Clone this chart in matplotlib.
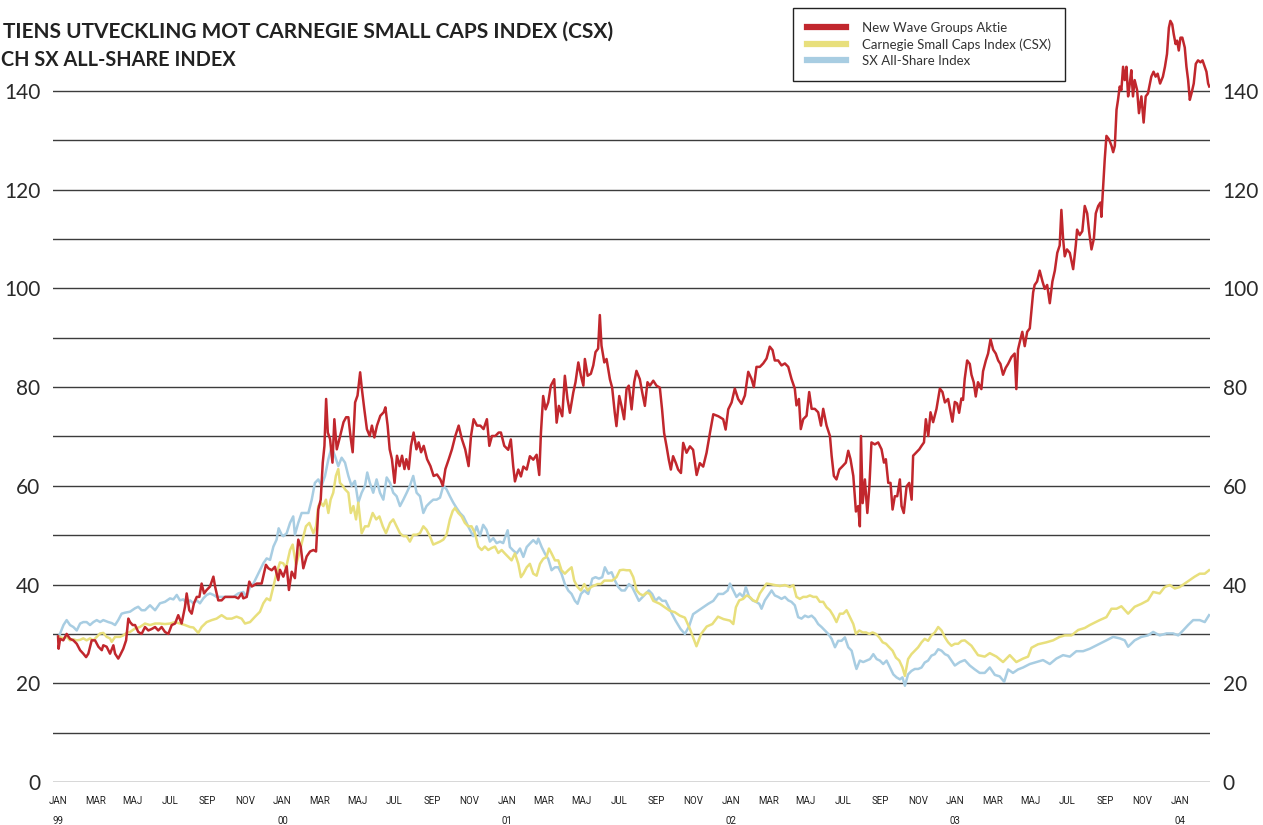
import matplotlib
matplotlib.use("Agg")
import matplotlib.pyplot as plt
from matplotlib.transforms import blended_transform_factory, offset_copy

# ---- data: time in months since Jan 1999 ----
red_t = [0.00,0.03,0.11,0.28,0.46,0.64,0.82,1.00,1.18,1.35,1.50,1.62,1.80,1.98,2.16,2.34,2.42,2.60,2.78,2.96,
 3.05,3.22,3.32,3.49,3.64,3.76,3.85,3.99,4.12,4.29,4.47,4.65,4.83,5.01,5.19,5.36,5.54,5.72,5.90,6.08,
 6.26,6.43,6.61,6.79,6.88,7.02,7.15,7.27,7.42,7.56,7.68,7.81,7.95,8.13,8.31,8.40,8.57,8.75,8.93,9.20,
 9.47,9.64,9.82,9.91,10.09,10.23,10.36,10.63,10.89,11.12,11.25,11.43,11.60,11.78,11.87,12.05,12.23,12.35,12.50,12.67,
 12.85,12.98,13.12,13.30,13.48,13.66,13.80,13.92,14.05,14.16,14.25,14.34,14.43,14.55,14.68,14.78,14.91,15.09,15.27,15.41,
 15.53,15.66,15.76,15.89,16.02,16.16,16.25,16.38,16.52,16.67,16.79,16.92,17.06,17.24,17.42,17.51,17.63,17.74,17.86,18.00,
 18.13,18.27,18.40,18.53,18.63,18.76,18.88,19.02,19.17,19.29,19.42,19.56,19.74,19.92,20.09,20.27,20.45,20.58,20.72,20.90,
 21.07,21.25,21.43,21.60,21.78,21.96,22.09,22.23,22.41,22.59,22.76,22.94,23.07,23.21,23.39,23.57,23.69,23.87,24.08,24.22,
 24.35,24.44,24.62,24.76,24.89,25.07,25.24,25.42,25.60,25.74,25.83,25.95,26.08,26.22,26.36,26.54,26.67,26.79,26.97,27.11,
 27.25,27.38,27.56,27.68,27.83,27.97,28.10,28.18,28.33,28.50,28.63,28.75,28.89,28.98,29.07,29.22,29.34,29.52,29.64,29.78,
 29.87,30.02,30.14,30.28,30.41,30.53,30.68,30.82,30.94,31.12,31.25,31.39,31.53,31.66,31.84,32.01,32.19,32.31,32.42,32.55,
 32.67,32.78,32.90,33.05,33.17,33.32,33.44,33.62,33.80,33.97,34.16,34.33,34.51,34.69,34.87,35.05,35.32,35.58,35.71,35.85,
 36.03,36.20,36.38,36.56,36.74,36.92,37.09,37.22,37.36,37.54,37.72,37.90,38.07,38.22,38.34,38.52,38.70,38.88,39.06,39.23,
 39.41,39.50,39.63,39.73,39.86,40.04,40.18,40.31,40.48,40.66,40.81,40.93,41.11,41.29,41.38,41.50,41.64,41.79,41.97,42.14,
 42.27,42.39,42.54,42.68,42.80,42.89,42.95,43.04,43.16,43.29,43.40,43.51,43.69,43.87,44.05,44.18,44.28,44.41,44.53,44.64,
 44.76,44.89,45.03,45.12,45.24,45.39,45.53,45.66,45.74,45.89,46.07,46.19,46.32,46.42,46.55,46.67,46.81,46.99,47.17,47.31,
 47.44,47.61,47.84,47.97,48.09,48.20,48.32,48.41,48.50,48.63,48.77,48.86,48.98,49.09,49.21,49.39,49.48,49.63,49.75,49.88,
 50.02,50.16,50.29,50.41,50.55,50.69,50.82,51.00,51.17,51.26,51.35,51.48,51.58,51.71,51.84,51.98,52.07,52.16,52.24,52.37,
 52.51,52.66,52.78,52.91,53.05,53.19,53.32,53.45,53.58,53.67,53.76,53.85,53.97,54.12,54.30,54.44,54.51,54.65,54.79,54.92,
 55.05,55.15,55.28,55.41,55.51,55.64,55.76,55.81,55.91,55.99,56.08,56.22,56.35,56.44,56.53,56.62,56.70,56.79,56.88,56.97,
 57.06,57.15,57.24,57.33,57.41,57.50,57.59,57.72,57.82,57.95,58.07,58.18,58.30,58.48,58.60,58.71,58.82,58.95,59.10,59.21,
 59.32,59.42,59.50,59.60,59.68,59.78,59.86,59.95,60.04,60.14,60.27,60.36,60.45,60.54,60.63,60.75,60.86,60.98,61.11,61.22,
 61.34,61.43,61.52,61.58]
red_v = [29.5,27.0,29.0,28.7,30.0,29.0,28.7,28.0,26.7,26.0,25.3,26.0,28.7,28.7,27.4,26.7,27.7,27.4,26.0,27.7,
 26.0,25.0,25.7,27.0,28.7,33.1,32.4,31.8,31.8,30.4,30.0,31.4,30.7,31.0,31.4,30.7,31.4,30.4,30.0,31.8,
 32.1,33.8,32.1,35.5,38.2,34.8,34.1,36.2,37.5,37.5,40.2,38.2,38.9,39.6,41.6,39.6,36.8,36.8,37.5,37.5,
 37.5,37.2,38.2,37.2,37.5,40.6,39.6,40.2,40.2,44.0,43.3,42.9,43.6,40.9,43.0,41.6,43.7,38.9,42.6,41.3,
 49.1,47.7,43.3,45.7,46.7,47.0,46.7,55.2,57.2,64.7,68.1,77.6,70.8,69.5,64.7,73.5,67.4,70.1,72.9,73.9,
 73.9,69.5,66.8,76.9,78.3,83.0,79.7,75.6,71.5,70.1,72.2,69.8,72.2,74.2,74.9,75.9,72.2,67.4,65.4,60.6,
 66.1,64.0,66.1,63.4,65.4,63.4,68.1,70.8,67.4,68.8,66.8,68.1,65.4,64.0,62.0,62.3,61.3,60.0,63.4,65.4,
 67.4,70.1,72.2,69.5,67.4,64.0,70.1,73.5,72.2,72.2,71.5,73.5,68.1,70.1,70.1,70.8,70.8,68.1,67.3,69.4,
 63.9,60.9,63.3,61.9,63.9,63.3,66.0,65.3,66.3,62.2,70.7,78.2,75.5,76.9,80.3,81.6,72.8,76.2,74.1,82.3,
 77.6,74.8,78.9,81.0,85.0,82.3,80.3,85.7,82.3,82.7,84.4,87.1,87.8,94.6,88.4,85.0,85.7,81.6,79.9,74.8,
 72.1,78.2,76.2,73.5,79.6,80.3,75.5,81.0,83.3,81.6,78.9,76.2,81.0,80.3,81.3,80.3,79.9,75.5,70.7,68.0,
 65.3,63.3,66.0,64.6,63.3,62.6,68.7,66.7,68.0,67.3,62.2,64.6,63.9,66.7,70.7,74.5,74.1,73.5,71.4,75.5,
 76.9,79.7,77.6,76.6,78.3,83.1,81.7,80.0,84.1,84.1,84.8,85.8,88.2,87.5,85.4,85.4,84.4,84.8,84.1,81.7,
 79.7,76.3,77.6,71.5,73.5,74.2,79.0,75.6,75.6,74.9,72.2,75.6,72.2,70.1,66.1,62.0,61.3,63.3,64.0,64.7,
 67.1,65.4,62.0,54.8,55.9,51.8,70.1,56.5,61.3,54.5,59.9,68.8,68.4,68.8,67.4,64.7,65.4,60.6,60.6,55.2,
 57.9,57.9,61.3,55.9,54.5,59.9,60.6,57.2,66.1,66.7,67.4,68.1,68.8,73.5,70.1,74.9,72.9,75.6,79.7,79.0,
 76.9,77.6,73.0,77.0,76.7,74.8,77.7,77.4,81.7,85.4,84.7,82.5,81.0,78.1,81.0,79.6,83.2,85.4,86.8,89.7,
 87.6,86.8,85.4,84.7,82.5,83.9,84.7,86.1,86.8,79.6,87.6,89.7,91.2,88.3,91.2,91.9,95.6,99.2,100.7,101.4,
 103.6,101.4,99.9,100.7,97.0,101.4,103.6,107.2,108.7,115.9,110.1,106.5,107.9,107.2,103.9,108.7,111.9,110.8,111.6,116.7,
 115.2,111.6,107.9,110.1,115.2,116.7,117.4,114.5,121.0,126.2,130.9,130.2,128.9,127.6,128.9,136.2,138.2,140.9,140.2,144.9,
 142.2,144.9,138.9,141.5,144.2,138.9,142.2,140.2,135.5,138.9,133.6,138.9,139.5,142.9,143.9,142.9,143.5,141.5,142.9,144.9,
 147.5,152.8,154.2,153.5,151.5,149.5,150.2,148.2,150.8,150.8,148.8,144.9,142.2,138.2,139.5,141.5,145.5,146.2,145.8,146.2,
 144.9,143.9,141.5,140.9]

csx_t = [0.07,0.29,0.46,0.64,0.82,1.00,1.18,1.35,1.53,1.71,1.89,2.07,2.25,2.42,2.60,2.78,2.87,3.05,3.31,3.49,
 3.67,3.85,4.12,4.38,4.65,4.92,5.19,5.45,5.72,5.99,6.26,6.52,6.79,7.06,7.24,7.50,7.68,7.95,8.22,8.48,
 8.75,9.02,9.29,9.55,9.82,10.00,10.27,10.54,10.80,10.98,11.16,11.34,11.52,11.69,11.87,12.05,12.19,12.41,12.55,12.73,
 12.91,13.08,13.26,13.44,13.66,13.80,13.92,14.05,14.19,14.33,14.46,14.58,14.72,14.86,14.99,15.08,15.23,15.35,15.53,15.66,
 15.80,15.94,16.06,16.24,16.42,16.60,16.83,17.02,17.19,17.37,17.54,17.76,17.93,18.11,18.29,18.47,18.65,18.82,19.00,19.18,
 19.36,19.54,19.71,19.89,20.07,20.25,20.43,20.61,20.78,20.96,21.11,21.23,21.41,21.59,21.76,21.94,22.12,22.30,22.48,22.66,
 22.83,23.01,23.19,23.37,23.55,23.73,23.90,24.08,24.26,24.44,24.62,24.76,24.89,25.07,25.24,25.42,25.60,25.78,25.95,26.13,
 26.26,26.40,26.58,26.76,26.93,27.11,27.29,27.47,27.61,27.79,27.97,28.15,28.33,28.51,28.69,28.86,29.04,29.22,29.43,29.64,
 29.87,30.05,30.23,30.41,30.59,30.77,30.95,31.12,31.30,31.48,31.66,31.84,32.01,32.19,32.46,32.72,32.99,33.26,33.53,33.80,
 34.15,34.40,34.70,35.00,35.30,35.60,35.94,36.12,36.26,36.44,36.65,36.83,37.00,37.18,37.36,37.54,37.72,37.90,38.07,38.34,
 38.61,38.88,39.15,39.33,39.50,39.68,39.86,40.04,40.22,40.40,40.57,40.75,40.93,41.11,41.29,41.47,41.64,41.82,42.00,42.18,
 42.36,42.54,42.68,42.86,43.04,43.22,43.39,43.57,43.75,43.93,44.11,44.29,44.46,44.64,44.82,45.00,45.17,45.30,45.47,45.65,
 45.83,46.01,46.19,46.36,46.54,46.72,46.90,47.08,47.26,47.44,47.61,47.79,47.97,48.15,48.33,48.50,48.86,49.21,49.57,49.84,
 50.20,50.55,50.91,51.26,51.62,51.89,52.07,52.42,52.87,53.23,53.58,53.85,54.21,54.57,54.92,55.19,55.72,56.08,56.35,56.62,
 56.88,57.24,57.59,57.95,58.30,58.58,58.93,59.20,59.47,59.74,60.00,60.27,60.54,60.80,61.07,61.34,61.57]
csx_v = [29.4,29.1,29.4,28.7,28.9,28.7,28.8,29.1,28.7,29.1,28.7,29.4,30.1,30.2,29.4,29.1,28.4,29.4,29.4,29.7,
 30.2,30.4,31.1,31.4,32.1,31.8,32.1,32.1,32.0,32.1,32.4,32.1,31.8,31.4,31.3,30.2,31.4,32.4,32.8,33.1,
 33.8,33.1,33.1,33.5,33.1,32.1,32.4,33.5,34.5,36.2,37.2,36.8,39.6,42.3,44.5,44.3,43.3,47.0,48.1,44.0,
 46.4,49.1,51.8,52.5,50.4,51.8,55.9,56.6,55.9,57.2,54.5,57.2,58.6,62.0,63.4,60.6,60.0,59.3,58.6,54.5,
 55.9,53.2,56.6,50.4,51.8,51.8,54.5,53.2,53.8,51.8,50.4,52.5,53.2,51.8,50.4,49.8,49.8,48.7,50.1,50.1,
 50.4,51.8,51.1,49.8,48.1,48.4,48.7,49.1,50.1,53.2,54.9,55.5,54.5,53.8,52.5,51.8,51.8,50.4,47.7,47.0,
 47.7,47.0,47.4,47.7,46.4,47.0,46.3,45.6,44.9,46.3,44.2,41.5,42.2,43.5,44.2,42.2,41.8,44.2,45.2,45.6,
 47.3,46.3,44.9,44.9,42.9,42.2,42.9,43.5,40.8,39.5,38.8,40.1,38.8,39.5,39.8,40.1,40.1,40.8,40.8,40.8,
 41.5,42.9,43.0,42.9,42.9,41.5,38.8,38.1,37.8,38.4,38.1,36.7,36.4,36.1,35.4,34.7,34.4,33.7,33.3,31.0,
 27.5,30.0,31.5,32.0,33.5,33.0,32.7,32.0,35.4,36.8,37.1,37.8,37.5,36.8,36.5,38.2,39.2,40.2,40.1,39.9,
 39.7,39.9,39.5,39.9,37.5,37.1,37.5,37.5,37.8,37.5,37.5,36.5,36.5,35.4,34.8,33.7,32.4,34.1,34.1,34.8,
 33.4,32.0,30.0,30.7,30.3,30.3,30.0,30.3,30.0,29.3,28.3,28.0,27.3,26.6,25.2,24.6,23.2,21.5,24.9,25.9,
 26.6,27.3,28.3,29.0,28.6,29.7,30.3,31.4,30.7,29.3,28.3,27.6,28.0,28.0,28.6,28.7,27.6,25.7,25.4,26.1,
 25.4,24.3,25.7,24.3,25.0,25.4,27.2,27.9,28.3,28.7,29.4,29.7,29.7,30.8,31.2,31.8,32.8,33.4,35.1,35.1,
 35.6,34.1,35.5,36.1,36.8,38.5,38.2,39.5,39.9,39.2,39.5,40.2,40.9,41.6,42.2,42.2,42.9]

sx_t = [0.07,0.29,0.46,0.64,0.82,1.00,1.18,1.35,1.53,1.71,1.89,2.07,2.25,2.42,2.69,2.87,3.05,3.22,3.40,3.58,
 3.85,4.12,4.29,4.47,4.65,4.92,5.19,5.45,5.72,5.99,6.17,6.35,6.52,6.70,6.88,7.06,7.24,7.42,7.59,7.77,
 7.95,8.13,8.31,8.48,8.66,8.84,9.11,9.38,9.64,9.91,10.09,10.27,10.45,10.63,10.80,10.98,11.16,11.34,11.52,11.69,
 11.80,11.96,12.05,12.23,12.41,12.58,12.67,12.85,13.03,13.21,13.39,13.57,13.74,13.92,14.10,14.28,14.46,14.63,14.81,14.99,
 15.17,15.35,15.53,15.70,15.88,16.06,16.24,16.42,16.54,16.68,16.86,17.04,17.22,17.40,17.58,17.76,17.93,18.11,18.29,18.47,
 18.65,18.82,19.00,19.18,19.36,19.54,19.71,19.89,20.07,20.25,20.43,20.61,20.78,20.96,21.14,21.32,21.50,21.68,21.85,22.03,
 22.21,22.39,22.57,22.74,22.92,23.10,23.28,23.46,23.64,23.81,23.99,24.05,24.17,24.35,24.53,24.71,24.89,25.07,25.24,25.42,
 25.60,25.69,25.87,26.04,26.22,26.40,26.58,26.76,26.93,27.11,27.29,27.47,27.65,27.79,27.97,28.15,28.36,28.58,28.75,28.93,
 29.11,29.25,29.43,29.61,29.79,29.97,30.14,30.32,30.54,30.71,30.89,31.07,31.25,31.43,31.60,31.78,31.96,32.14,32.32,32.50,
 32.67,32.85,33.03,33.30,33.53,33.75,33.97,34.24,34.51,34.78,35.05,35.32,35.58,35.82,35.94,36.12,36.29,36.47,36.65,36.79,
 36.97,37.15,37.33,37.51,37.63,37.81,37.99,38.17,38.34,38.52,38.70,38.88,39.06,39.23,39.41,39.59,39.77,39.95,40.13,40.31,
 40.48,40.66,40.84,41.02,41.20,41.38,41.56,41.73,41.91,42.09,42.27,42.45,42.63,42.71,42.89,43.07,43.25,43.43,43.61,43.79,
 43.96,44.14,44.32,44.50,44.68,44.85,45.03,45.17,45.30,45.47,45.65,45.83,46.01,46.19,46.36,46.54,46.72,46.90,47.08,47.26,
 47.44,47.61,47.79,47.97,48.24,48.50,48.77,49.04,49.30,49.57,49.84,50.11,50.37,50.61,50.82,51.08,51.35,51.62,51.98,52.33,
 52.69,53.05,53.40,53.76,54.12,54.47,54.83,55.19,55.72,56.08,56.44,56.79,57.06,57.24,57.59,57.95,58.30,58.58,58.93,59.29,
 59.65,59.92,60.18,60.45,60.72,61.07,61.34,61.57]
sx_v = [29.7,31.8,32.8,31.8,31.4,30.7,32.1,32.4,32.4,31.8,32.4,32.8,32.4,32.8,32.4,32.2,31.8,32.8,34.1,34.3,
 34.5,35.2,35.5,34.8,34.8,35.8,34.8,36.2,36.5,37.2,37.0,37.9,36.8,37.0,36.2,36.8,36.2,36.8,36.2,37.2,
 37.9,38.2,37.9,37.5,37.5,37.5,37.5,37.5,38.2,38.5,37.5,39.6,40.2,41.6,42.9,44.3,45.3,45.0,47.7,49.1,
 51.4,50.1,49.8,50.4,52.5,53.8,50.1,52.5,54.5,54.5,54.5,57.2,60.6,61.3,60.0,62.0,65.4,67.8,66.1,64.0,
 65.7,64.7,62.0,60.0,61.0,56.6,58.6,60.0,62.7,60.6,58.6,61.3,58.6,57.2,61.7,60.6,58.6,57.9,55.9,57.2,
 58.6,60.0,62.0,58.6,57.9,54.5,55.9,56.6,57.2,57.2,57.6,60.0,59.3,57.9,56.6,55.5,54.5,53.8,52.5,51.1,
 49.8,51.8,49.8,52.1,51.1,48.7,49.4,48.4,48.7,48.4,50.4,51.0,47.6,46.9,46.3,47.3,45.6,47.6,48.3,49.0,
 48.3,49.3,47.6,46.3,45.2,42.9,43.5,43.5,42.2,40.1,38.8,38.1,36.7,36.1,38.1,38.8,38.1,41.2,41.5,41.2,
 41.5,43.5,42.2,42.5,40.8,39.5,38.8,38.8,40.1,39.5,38.1,36.7,37.4,38.1,38.8,38.1,36.7,37.4,36.7,36.7,
 35.4,34.0,32.7,31.0,30.0,31.5,34.0,34.7,35.4,36.1,36.7,38.1,38.1,38.8,40.2,38.8,37.5,38.2,37.5,39.5,
 37.5,36.8,36.5,36.1,35.1,36.8,37.8,38.8,37.8,37.5,37.1,37.5,36.8,36.5,35.8,33.4,33.1,33.7,33.4,33.7,
 33.1,32.0,31.4,30.7,30.0,29.0,27.3,28.6,28.6,29.3,27.3,26.6,23.9,22.9,24.6,24.3,24.6,24.9,25.9,24.9,
 24.6,23.9,24.6,23.2,21.8,21.2,20.8,21.2,19.5,21.8,22.5,22.9,22.9,23.2,24.2,24.6,25.6,25.9,26.9,26.6,
 25.9,25.6,24.6,23.6,24.3,24.7,23.6,22.8,22.1,22.1,23.2,21.7,21.4,20.3,22.8,22.1,22.8,23.2,23.9,24.3,
 24.7,23.9,25.0,25.7,25.4,26.5,26.5,27.0,28.0,28.7,29.4,29.1,28.7,27.4,28.7,29.4,29.7,30.4,29.7,30.1,
 30.1,29.7,30.7,31.8,32.8,32.8,32.4,33.8]

month_ticks = list(range(0, 61, 2))
month_names = ["JAN", "MAR", "MAJ", "JUL", "SEP", "NOV"]
year_ticks = [0, 12, 24, 36, 48, 60]
year_labels = ["99", "00", "01", "02", "03", "04"]
y_labels = [0, 20, 40, 60, 80, 100, 120, 140]

series_names = ["New Wave Groups Aktie", "Carnegie Small Caps Index (CSX)", "SX All-Share Index"]
c_red, c_yel, c_blu = "#c1272d", "#e8df7c", "#a8cde2"

W, H = 1263, 825
fig = plt.figure(figsize=(W / 100, H / 100), dpi=100)
ax_l, ax_r = 53 / W, 1210 / W
ax_b = (H - 782) / H
ymax = 156
ax_h = ymax * 4.936 / H
ax = fig.add_axes([ax_l, ax_b, ax_r - ax_l, ax_h])

ax.plot(sx_t, sx_v, color=c_blu, lw=1.8, label=series_names[2], zorder=3, solid_joinstyle="round")
ax.plot(csx_t, csx_v, color=c_yel, lw=1.8, label=series_names[1], zorder=4, solid_joinstyle="round")
ax.plot(red_t, red_v, color=c_red, lw=1.8, label=series_names[0], zorder=5, solid_joinstyle="round")

ax.set_xlim(-0.27, 61.62)
ax.set_ylim(0, ymax)
for s in ax.spines.values():
    s.set_visible(False)

ax.set_yticks(y_labels)
ax.set_yticks(list(range(10, 141, 20)), minor=True)
ax.grid(True, axis="y", which="both", color="#3c3c3c", lw=1.0, zorder=1)
ax.tick_params(axis="y", which="both", length=0, labelleft=True, labelright=True, pad=9,
               labelsize=15, labelcolor="#2a2a2a")
for lab in ax.get_yticklabels():
    lab.set_fontfamily("Lato")

ax.set_xticks(month_ticks)
ax.set_xticklabels([month_names[(m // 2) % 6] for m in month_ticks], fontfamily="Roboto",
                   fontsize=7, color="#222222")
ax.tick_params(axis="x", length=0, pad=10)

trans = blended_transform_factory(ax.transData, ax.transAxes)
trans_y = offset_copy(trans, fig=fig, x=0, y=-39, units="dots")
for m, lab in zip(year_ticks, year_labels):
    ax.text(m, 0, lab, transform=trans_y, ha="center", va="center", fontsize=7,
            fontfamily="Roboto", color="#222222")

fig.text(3 / W, 1 - 38 / H, "TIENS UTVECKLING MOT CARNEGIE SMALL CAPS INDEX (CSX)",
         fontsize=15, fontweight="bold", fontfamily="Lato", color="#222222", va="baseline")
fig.text(1 / W, 1 - 66 / H, "CH SX ALL-SHARE INDEX",
         fontsize=14.3, fontweight="bold", fontfamily="Lato", color="#222222", va="baseline")

handles, labels = ax.get_legend_handles_labels()
order = [2, 1, 0]
leg = ax.legend([handles[i] for i in order], [labels[i] for i in order],
                loc="upper left", bbox_to_anchor=(793 / W, 1 - 8 / H), bbox_transform=fig.transFigure,
                frameon=True, fancybox=False, edgecolor="#222222", framealpha=1,
                prop={"family": "Lato", "size": 9.5}, handlelength=3.0, handletextpad=1.2,
                labelspacing=0.32, borderpad=1.05, borderaxespad=0)
leg.get_frame().set_linewidth(1.0)
for line in leg.get_lines():
    line.set_linewidth(4.5)
for t in leg.get_texts():
    t.set_color("#333333")

fig.savefig("out.png", dpi=100)
